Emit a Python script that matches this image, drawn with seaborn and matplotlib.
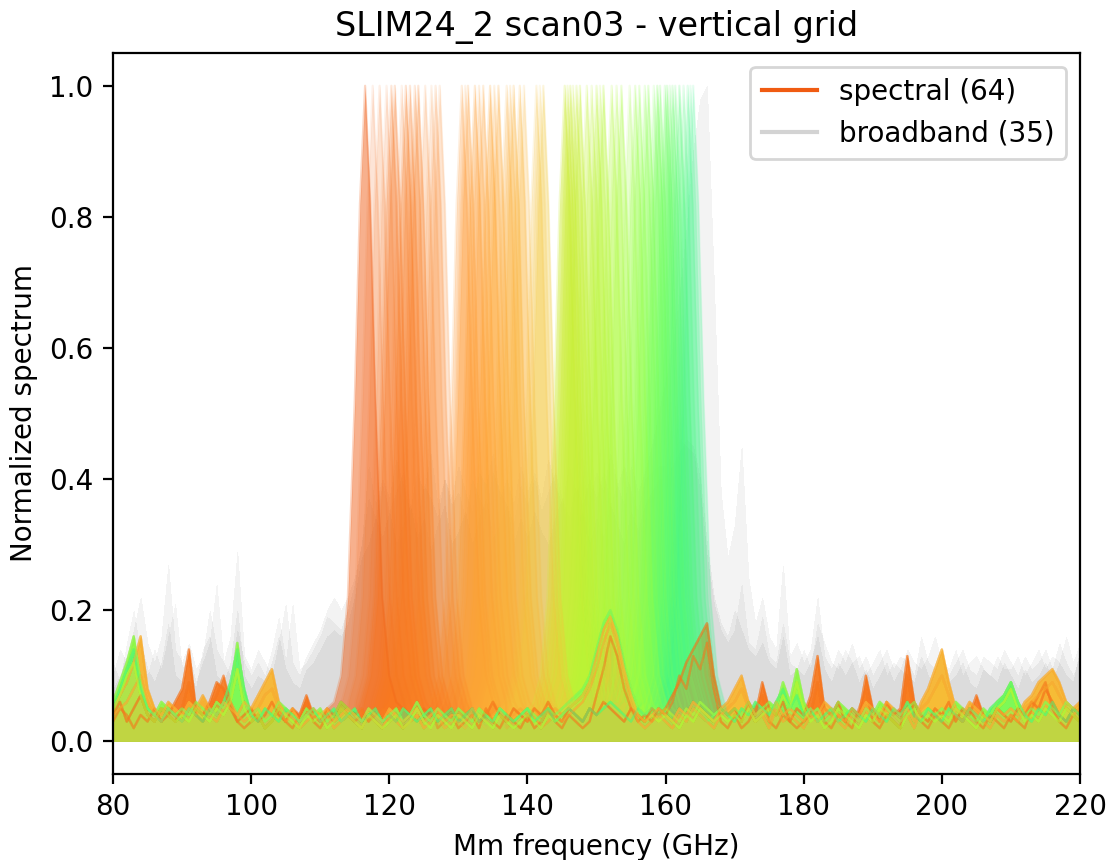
import numpy as np
import matplotlib
matplotlib.use("Agg")
import matplotlib.pyplot as plt
from matplotlib.lines import Line2D
import seaborn as sns

# Frequency sampling of the measured spectra (GHz)
freq = np.arange(80.0, 221.0, 1.0)

# Centre frequencies of the 64 filterbank (spectral) channels, GHz
PEAK_CENTERS = [
    116.5, 117.6, 118.6, 119.6, 120.3, 120.8, 121.8, 122.4, 123.0, 123.7,
    124.2, 125.2, 126.1, 126.7, 127.3,
    130.5, 131.0, 131.4, 132.4, 133.0, 133.6, 134.6, 135.2, 135.8, 137.0,
    137.5, 138.0, 138.9, 139.5,
    141.3, 141.8, 142.3,
    145.4, 145.8, 146.2, 146.6, 147.1, 147.6, 148.6, 149.3, 150.0, 150.5,
    151.0, 152.2, 152.9, 153.6, 154.8, 155.6,
    156.2, 157.0, 157.5, 158.3, 158.8, 159.2, 159.9, 160.2, 160.6, 161.0,
    161.4, 162.0, 162.6, 163.2, 163.6, 164.0,
]

# Normalised line shape around each channel centre
PEAK_OFFSETS = [-4.5, -3.5, -2.5, -1.5, -0.75, 0.0, 0.75, 1.5, 2.5, 3.5, 4.5]
PEAK_LEVELS = [0.06, 0.10, 0.22, 0.52, 0.82, 1.0, 0.82, 0.52, 0.22, 0.10, 0.06]

# Out-of-band response of the spectral channels (80..220 GHz, 1 GHz steps)
BASELINES = {
    "o1": [
        0.04, 0.06, 0.03, 0.05, 0.07, 0.04, 0.03, 0.05, 0.04, 0.06,
        0.08, 0.14, 0.05, 0.04, 0.06, 0.09, 0.08, 0.05, 0.03, 0.04,
        0.05, 0.03, 0.04, 0.06, 0.04, 0.03, 0.05, 0.04, 0.07, 0.04,
        0.03, 0.05, 0.04, 0.06, 0.05, 0.04, 0.05, 0.03, 0.04, 0.05,
        0.04, 0.03, 0.05, 0.04, 0.03, 0.05, 0.04, 0.03, 0.04, 0.05,
        0.03, 0.04, 0.05, 0.03, 0.04, 0.06, 0.04, 0.03, 0.05, 0.04,
        0.03, 0.05, 0.04, 0.06, 0.04, 0.03, 0.05, 0.04, 0.03, 0.05,
        0.04, 0.06, 0.05, 0.04, 0.03, 0.05, 0.04, 0.03, 0.05, 0.04,
        0.05, 0.07, 0.09, 0.12, 0.14, 0.16, 0.18, 0.10, 0.05, 0.04,
        0.05, 0.03, 0.06, 0.04, 0.09, 0.05, 0.04, 0.06, 0.03, 0.05,
        0.04, 0.07, 0.13, 0.05, 0.04, 0.06, 0.03, 0.05, 0.04, 0.10,
        0.05, 0.03, 0.06, 0.04, 0.05, 0.13, 0.06, 0.04, 0.03, 0.05,
        0.04, 0.06, 0.03, 0.05, 0.04, 0.07, 0.04, 0.03, 0.05, 0.04,
        0.03, 0.05, 0.04, 0.06, 0.05, 0.08, 0.06, 0.04, 0.03, 0.05,
        0.04,
    ],
    "o2": [
        0.03, 0.05, 0.04, 0.02, 0.04, 0.03, 0.05, 0.03, 0.04, 0.03,
        0.05, 0.09, 0.04, 0.03, 0.05, 0.07, 0.10, 0.06, 0.03, 0.02,
        0.03, 0.04, 0.02, 0.03, 0.05, 0.03, 0.02, 0.04, 0.06, 0.03,
        0.02, 0.04, 0.03, 0.05, 0.04, 0.03, 0.04, 0.03, 0.05, 0.04,
        0.03, 0.04, 0.02, 0.03, 0.04, 0.03, 0.05, 0.02, 0.03, 0.04,
        0.02, 0.03, 0.04, 0.02, 0.05, 0.03, 0.02, 0.04, 0.03, 0.02,
        0.04, 0.02, 0.03, 0.05, 0.03, 0.02, 0.04, 0.03, 0.02, 0.03,
        0.07, 0.11, 0.16, 0.13, 0.08, 0.05, 0.03, 0.04, 0.03, 0.05,
        0.04, 0.06, 0.10, 0.08, 0.13, 0.11, 0.15, 0.08, 0.03, 0.02,
        0.04, 0.02, 0.03, 0.05, 0.07, 0.03, 0.02, 0.04, 0.03, 0.02,
        0.03, 0.04, 0.09, 0.03, 0.02, 0.04, 0.03, 0.02, 0.05, 0.08,
        0.03, 0.02, 0.04, 0.03, 0.02, 0.10, 0.04, 0.03, 0.02, 0.04,
        0.03, 0.02, 0.04, 0.03, 0.05, 0.03, 0.02, 0.04, 0.03, 0.02,
        0.04, 0.03, 0.02, 0.05, 0.07, 0.09, 0.05, 0.03, 0.02, 0.04,
        0.03,
    ],
    "y1": [
        0.05, 0.07, 0.09, 0.12, 0.16, 0.08, 0.05, 0.04, 0.06, 0.05,
        0.04, 0.06, 0.05, 0.07, 0.05, 0.04, 0.06, 0.05, 0.04, 0.06,
        0.05, 0.07, 0.09, 0.11, 0.06, 0.04, 0.05, 0.03, 0.04, 0.05,
        0.04, 0.05, 0.03, 0.04, 0.05, 0.04, 0.03, 0.05, 0.04, 0.03,
        0.05, 0.04, 0.03, 0.04, 0.05, 0.03, 0.04, 0.05, 0.03, 0.04,
        0.04, 0.03, 0.05, 0.04, 0.03, 0.04, 0.05, 0.03, 0.04, 0.05,
        0.04, 0.05, 0.03, 0.04, 0.05, 0.04, 0.05, 0.06, 0.07, 0.09,
        0.13, 0.17, 0.19, 0.16, 0.11, 0.07, 0.04, 0.03, 0.04, 0.05,
        0.04, 0.03, 0.05, 0.04, 0.06, 0.05, 0.04, 0.03, 0.05, 0.06,
        0.08, 0.10, 0.06, 0.04, 0.05, 0.03, 0.06, 0.04, 0.05, 0.04,
        0.03, 0.05, 0.04, 0.06, 0.05, 0.04, 0.03, 0.05, 0.04, 0.06,
        0.05, 0.04, 0.06, 0.05, 0.04, 0.05, 0.03, 0.06, 0.08, 0.11,
        0.14, 0.09, 0.05, 0.04, 0.06, 0.05, 0.04, 0.03, 0.05, 0.04,
        0.05, 0.04, 0.06, 0.07, 0.09, 0.10, 0.11, 0.09, 0.06, 0.05,
        0.06,
    ],
    "y2": [
        0.04, 0.05, 0.06, 0.08, 0.10, 0.06, 0.04, 0.03, 0.05, 0.04,
        0.03, 0.05, 0.04, 0.06, 0.04, 0.03, 0.05, 0.06, 0.04, 0.03,
        0.04, 0.05, 0.07, 0.08, 0.05, 0.03, 0.04, 0.02, 0.03, 0.04,
        0.03, 0.04, 0.02, 0.03, 0.04, 0.03, 0.02, 0.04, 0.03, 0.02,
        0.04, 0.03, 0.02, 0.03, 0.04, 0.02, 0.03, 0.04, 0.02, 0.03,
        0.03, 0.02, 0.04, 0.03, 0.02, 0.03, 0.04, 0.02, 0.03, 0.04,
        0.03, 0.04, 0.02, 0.03, 0.04, 0.03, 0.04, 0.05, 0.06, 0.08,
        0.11, 0.15, 0.18, 0.15, 0.10, 0.06, 0.03, 0.02, 0.03, 0.04,
        0.03, 0.02, 0.04, 0.03, 0.05, 0.04, 0.03, 0.02, 0.04, 0.05,
        0.06, 0.08, 0.05, 0.03, 0.04, 0.02, 0.05, 0.03, 0.04, 0.03,
        0.02, 0.04, 0.03, 0.05, 0.04, 0.03, 0.02, 0.04, 0.03, 0.05,
        0.04, 0.03, 0.05, 0.04, 0.03, 0.04, 0.02, 0.05, 0.06, 0.08,
        0.10, 0.07, 0.04, 0.03, 0.05, 0.04, 0.03, 0.02, 0.04, 0.03,
        0.04, 0.03, 0.05, 0.06, 0.07, 0.08, 0.09, 0.07, 0.05, 0.04,
        0.05,
    ],
    "g1": [
        0.06, 0.09, 0.12, 0.16, 0.09, 0.05, 0.04, 0.06, 0.05, 0.04,
        0.05, 0.04, 0.06, 0.05, 0.04, 0.06, 0.05, 0.07, 0.15, 0.07,
        0.04, 0.05, 0.03, 0.04, 0.06, 0.05, 0.04, 0.03, 0.05, 0.04,
        0.05, 0.03, 0.04, 0.06, 0.05, 0.04, 0.03, 0.05, 0.04, 0.03,
        0.04, 0.05, 0.03, 0.04, 0.06, 0.04, 0.03, 0.05, 0.04, 0.03,
        0.05, 0.04, 0.03, 0.05, 0.04, 0.03, 0.05, 0.04, 0.03, 0.04,
        0.05, 0.04, 0.03, 0.05, 0.04, 0.05, 0.06, 0.07, 0.08, 0.10,
        0.14, 0.18, 0.20, 0.17, 0.12, 0.08, 0.05, 0.04, 0.05, 0.04,
        0.05, 0.04, 0.03, 0.05, 0.04, 0.06, 0.05, 0.04, 0.05, 0.04,
        0.05, 0.04, 0.06, 0.04, 0.05, 0.06, 0.05, 0.09, 0.06, 0.11,
        0.06, 0.04, 0.05, 0.03, 0.04, 0.06, 0.05, 0.04, 0.03, 0.05,
        0.04, 0.06, 0.05, 0.04, 0.03, 0.05, 0.06, 0.04, 0.05, 0.04,
        0.05, 0.04, 0.06, 0.05, 0.04, 0.03, 0.05, 0.04, 0.06, 0.07,
        0.09, 0.06, 0.04, 0.05, 0.04, 0.06, 0.05, 0.04, 0.06, 0.05,
        0.04,
    ],
    "g2": [
        0.05, 0.07, 0.10, 0.12, 0.07, 0.04, 0.03, 0.05, 0.04, 0.03,
        0.04, 0.03, 0.05, 0.04, 0.03, 0.05, 0.04, 0.06, 0.11, 0.05,
        0.03, 0.04, 0.02, 0.03, 0.05, 0.04, 0.03, 0.02, 0.04, 0.03,
        0.04, 0.02, 0.03, 0.05, 0.04, 0.03, 0.02, 0.04, 0.03, 0.02,
        0.03, 0.04, 0.02, 0.03, 0.05, 0.03, 0.02, 0.04, 0.03, 0.02,
        0.04, 0.03, 0.02, 0.04, 0.03, 0.02, 0.04, 0.03, 0.02, 0.03,
        0.04, 0.03, 0.02, 0.04, 0.03, 0.04, 0.05, 0.06, 0.07, 0.09,
        0.12, 0.16, 0.19, 0.16, 0.11, 0.07, 0.04, 0.03, 0.04, 0.03,
        0.04, 0.03, 0.02, 0.04, 0.03, 0.05, 0.04, 0.03, 0.04, 0.03,
        0.04, 0.03, 0.05, 0.03, 0.04, 0.05, 0.04, 0.07, 0.05, 0.09,
        0.05, 0.03, 0.04, 0.02, 0.03, 0.05, 0.04, 0.03, 0.02, 0.04,
        0.03, 0.05, 0.04, 0.03, 0.02, 0.04, 0.05, 0.03, 0.04, 0.03,
        0.04, 0.03, 0.05, 0.04, 0.03, 0.02, 0.04, 0.03, 0.05, 0.06,
        0.08, 0.05, 0.03, 0.04, 0.03, 0.05, 0.04, 0.03, 0.05, 0.04,
        0.03,
    ],
    "m1": [
        0.05, 0.08, 0.11, 0.14, 0.08, 0.05, 0.04, 0.03, 0.05, 0.04,
        0.03, 0.05, 0.04, 0.03, 0.05, 0.04, 0.06, 0.09, 0.14, 0.08,
        0.04, 0.03, 0.05, 0.04, 0.03, 0.05, 0.04, 0.03, 0.04, 0.05,
        0.03, 0.04, 0.05, 0.03, 0.04, 0.05, 0.03, 0.04, 0.05, 0.03,
        0.04, 0.03, 0.05, 0.04, 0.03, 0.04, 0.05, 0.03, 0.04, 0.05,
        0.03, 0.04, 0.05, 0.03, 0.04, 0.03, 0.05, 0.04, 0.03, 0.04,
        0.05, 0.03, 0.04, 0.05, 0.03, 0.04, 0.05, 0.04, 0.03, 0.05,
        0.04, 0.05, 0.06, 0.05, 0.04, 0.03, 0.05, 0.04, 0.05, 0.04,
        0.04, 0.05, 0.04, 0.03, 0.05, 0.04, 0.03, 0.04, 0.05, 0.04,
        0.03, 0.05, 0.04, 0.06, 0.05, 0.04, 0.06, 0.08, 0.05, 0.07,
        0.04, 0.05, 0.03, 0.04, 0.05, 0.03, 0.04, 0.05, 0.04, 0.03,
        0.05, 0.04, 0.03, 0.05, 0.04, 0.06, 0.04, 0.03, 0.05, 0.04,
        0.03, 0.05, 0.04, 0.03, 0.05, 0.04, 0.03, 0.05, 0.06, 0.07,
        0.09, 0.06, 0.04, 0.03, 0.05, 0.04, 0.06, 0.04, 0.03, 0.05,
        0.04,
    ],
}

# Which out-of-band response belongs to which spectral channel
CHANNEL_BASELINE = (
    "o1 o2 o1 o2 o1 o2 o1 o2 o1 o2 o1 o2 o1 o2 o1 "
    "y1 y2 y1 y2 y1 y2 y1 y2 y1 y2 y1 y2 y1 y2 "
    "y1 y2 y1 "
    "g2 g1 g2 g2 g1 g2 g2 g1 g2 g2 g1 g2 g2 g1 g2 g2 "
    "m1 g1 m1 m1 g1 m1 m1 g1 m1 m1 g1 m1 m1 g1 m1 m1"
).split()

# Broadband (dark) pixel responses, 80..220 GHz, 1 GHz steps
BROADBAND = {
    "b1": [
        0.10, 0.14, 0.12, 0.17, 0.22, 0.15, 0.12, 0.16, 0.27, 0.14,
        0.12, 0.15, 0.11, 0.13, 0.20, 0.14, 0.12, 0.16, 0.29, 0.13,
        0.11, 0.14, 0.12, 0.10, 0.15, 0.21, 0.12, 0.10, 0.13, 0.15,
        0.17, 0.20, 0.22, 0.20, 0.22, 0.25, 0.30, 0.42, 0.36, 0.40,
        0.37, 0.43, 0.39, 0.35, 0.41, 0.38, 0.44, 0.36, 0.40, 0.37,
        0.42, 0.38, 0.35, 0.41, 0.39, 0.44, 0.37, 0.40, 0.36, 0.42,
        0.38, 0.41, 0.37, 0.43, 0.39, 0.36, 0.42, 0.38, 0.40, 0.37,
        0.41, 0.38, 0.44, 0.39, 0.36, 0.42, 0.38, 0.41, 0.45, 0.50,
        0.55, 0.60, 0.68, 0.78, 0.90, 0.98, 1.00, 0.70, 0.38, 0.28,
        0.33, 0.45, 0.25, 0.18, 0.22, 0.16, 0.14, 0.27, 0.13, 0.15,
        0.12, 0.14, 0.22, 0.13, 0.11, 0.14, 0.12, 0.15, 0.11, 0.13,
        0.10, 0.12, 0.14, 0.11, 0.13, 0.12, 0.10, 0.16, 0.12, 0.11,
        0.13, 0.10, 0.12, 0.14, 0.11, 0.10, 0.13, 0.12, 0.11, 0.14,
        0.12, 0.10, 0.13, 0.11, 0.12, 0.14, 0.11, 0.15, 0.12, 0.10,
        0.13,
    ],
    "b2": [
        0.08, 0.10, 0.13, 0.09, 0.15, 0.11, 0.09, 0.12, 0.18, 0.10,
        0.09, 0.11, 0.08, 0.14, 0.16, 0.10, 0.09, 0.12, 0.20, 0.10,
        0.08, 0.10, 0.09, 0.12, 0.16, 0.11, 0.09, 0.08, 0.11, 0.12,
        0.14, 0.16, 0.17, 0.16, 0.18, 0.22, 0.28, 0.30, 0.34, 0.31,
        0.35, 0.30, 0.33, 0.36, 0.31, 0.34, 0.29, 0.33, 0.36, 0.30,
        0.32, 0.35, 0.30, 0.34, 0.37, 0.31, 0.33, 0.36, 0.30, 0.34,
        0.31, 0.35, 0.32, 0.30, 0.34, 0.37, 0.31, 0.33, 0.35, 0.30,
        0.34, 0.31, 0.36, 0.33, 0.30, 0.35, 0.32, 0.36, 0.38, 0.40,
        0.40, 0.42, 0.44, 0.46, 0.45, 0.40, 0.30, 0.22, 0.18, 0.16,
        0.20, 0.17, 0.14, 0.13, 0.15, 0.12, 0.11, 0.16, 0.10, 0.11,
        0.10, 0.12, 0.16, 0.11, 0.09, 0.12, 0.10, 0.12, 0.09, 0.11,
        0.08, 0.10, 0.12, 0.09, 0.11, 0.10, 0.09, 0.13, 0.10, 0.09,
        0.11, 0.09, 0.10, 0.12, 0.09, 0.08, 0.11, 0.10, 0.09, 0.12,
        0.10, 0.08, 0.11, 0.09, 0.10, 0.12, 0.09, 0.12, 0.10, 0.09,
        0.14,
    ],
    "b3": [
        0.12, 0.09, 0.15, 0.20, 0.13, 0.10, 0.14, 0.11, 0.16, 0.21,
        0.11, 0.13, 0.09, 0.12, 0.15, 0.24, 0.12, 0.10, 0.17, 0.12,
        0.10, 0.12, 0.10, 0.14, 0.19, 0.12, 0.21, 0.11, 0.12, 0.14,
        0.16, 0.19, 0.18, 0.17, 0.20, 0.24, 0.30, 0.37, 0.34, 0.39,
        0.35, 0.38, 0.41, 0.36, 0.33, 0.39, 0.37, 0.34, 0.40, 0.36,
        0.38, 0.34, 0.40, 0.37, 0.35, 0.41, 0.38, 0.36, 0.33, 0.39,
        0.36, 0.40, 0.35, 0.38, 0.41, 0.37, 0.34, 0.39, 0.36, 0.40,
        0.37, 0.41, 0.36, 0.39, 0.42, 0.38, 0.35, 0.40, 0.41, 0.42,
        0.42, 0.44, 0.46, 0.45, 0.44, 0.38, 0.28, 0.21, 0.17, 0.15,
        0.17, 0.24, 0.15, 0.14, 0.19, 0.13, 0.12, 0.18, 0.12, 0.11,
        0.14, 0.11, 0.18, 0.15, 0.12, 0.11, 0.14, 0.12, 0.13, 0.10,
        0.12, 0.14, 0.10, 0.12, 0.11, 0.14, 0.12, 0.11, 0.13, 0.16,
        0.12, 0.11, 0.14, 0.10, 0.12, 0.13, 0.11, 0.10, 0.13, 0.11,
        0.11, 0.13, 0.10, 0.12, 0.14, 0.11, 0.13, 0.12, 0.16, 0.12,
        0.15,
    ],
}
BROADBAND_PIXELS = (["b1", "b2", "b3"] * 12)[:35]

# Per-channel fill opacity
FILL_ALPHA = [
    0.60, 0.22, 0.26, 0.22, 0.38, 0.42, 0.22, 0.45, 0.38, 0.34,
    0.42, 0.26, 0.22, 0.30, 0.26,
    0.35, 0.25, 0.40, 0.45, 0.30, 0.40, 0.50, 0.30, 0.45, 0.35,
    0.30, 0.45, 0.40, 0.30,
    0.35, 0.25, 0.40,
    0.55, 0.40, 0.50, 0.35, 0.45, 0.50, 0.40, 0.35, 0.45, 0.30,
    0.50, 0.40, 0.35, 0.45, 0.30, 0.40,
    0.40, 0.35, 0.45, 0.30, 0.50, 0.40, 0.35, 0.45, 0.30, 0.40,
    0.35, 0.45, 0.30, 0.35, 0.25, 0.30,
]
ALPHA_SCALE = 0.8

# Colour ramp: channel frequency (GHz) -> position on the turbo colormap
COLOR_FREQ = [116.5, 118.0, 127.3, 130.5, 139.5, 142.3, 145.4, 152.0, 157.0, 161.0, 164.0]
COLOR_POS = [0.80, 0.775, 0.745, 0.725, 0.675, 0.64, 0.565, 0.525, 0.47, 0.43, 0.39]

assert len(PEAK_CENTERS) == 64 and len(CHANNEL_BASELINE) == 64 and len(FILL_ALPHA) == 64
for arr in list(BASELINES.values()) + list(BROADBAND.values()):
    assert len(arr) == len(freq)


def channel_spectrum(center, base):
    """Out-of-band samples joined with the resonance line around `center`."""
    base = np.asarray(base, dtype=float)
    offs = np.asarray(PEAK_OFFSETS)
    keep = np.abs(freq - center) > offs.max()
    x = np.concatenate([freq[keep], center + offs])
    y = np.concatenate([base[keep], PEAK_LEVELS])
    order = np.argsort(x)
    return x[order], y[order]


sns.reset_orig()
plt.rcParams["font.family"] = ["DejaVu Sans"]

DPI = 200
fig = plt.figure(figsize=(1114 / DPI, 860 / DPI), dpi=DPI)
ax = fig.add_axes([113 / 1114, 86 / 860, (1080 - 113) / 1114, (774 - 53) / 860])

cmap = matplotlib.colormaps["turbo"]
n_chan = len(PEAK_CENTERS)
chan_colors = [cmap(np.interp(f, COLOR_FREQ, COLOR_POS)) for f in PEAK_CENTERS]

# readout order of the channels: the four sub-bands are read interleaved
groups = [list(range(48, 64)), list(range(15, 32)), list(range(32, 48)), list(range(0, 15))]
draw_order = []
for k in range(max(len(g) for g in groups)):
    for g in groups:
        if k < len(g):
            draw_order.append(g[k])

# broadband pixels underneath
for key in BROADBAND_PIXELS:
    ax.fill_between(freq, 0, BROADBAND[key], color="lightgray", alpha=0.017, lw=0)

# spectral channels
for i in draw_order:
    x, y = channel_spectrum(PEAK_CENTERS[i], BASELINES[CHANNEL_BASELINE[i]])
    a = FILL_ALPHA[i] * ALPHA_SCALE
    ax.fill_between(x, 0, y, color=chan_colors[i], alpha=a, lw=0)
    sns.lineplot(x=x, y=y, ax=ax, color=chan_colors[i], alpha=a * 0.5, lw=0.8,
                 legend=False, estimator=None, sort=False)

ax.set_xlim(80, 220)
ax.set_ylim(-0.05, 1.05)
ax.set_xlabel("Mm frequency (GHz)")
ax.set_ylabel("Normalized spectrum")
ax.set_title("SLIM24_2 scan03 - vertical grid")

handles = [
    Line2D([0], [0], color=chan_colors[0], lw=1.5),
    Line2D([0], [0], color="lightgray", lw=1.5),
]
ax.legend(handles, [f"spectral ({n_chan})", f"broadband ({len(BROADBAND_PIXELS)})"],
          loc="upper right")

fig.savefig("out.png", dpi=DPI)
